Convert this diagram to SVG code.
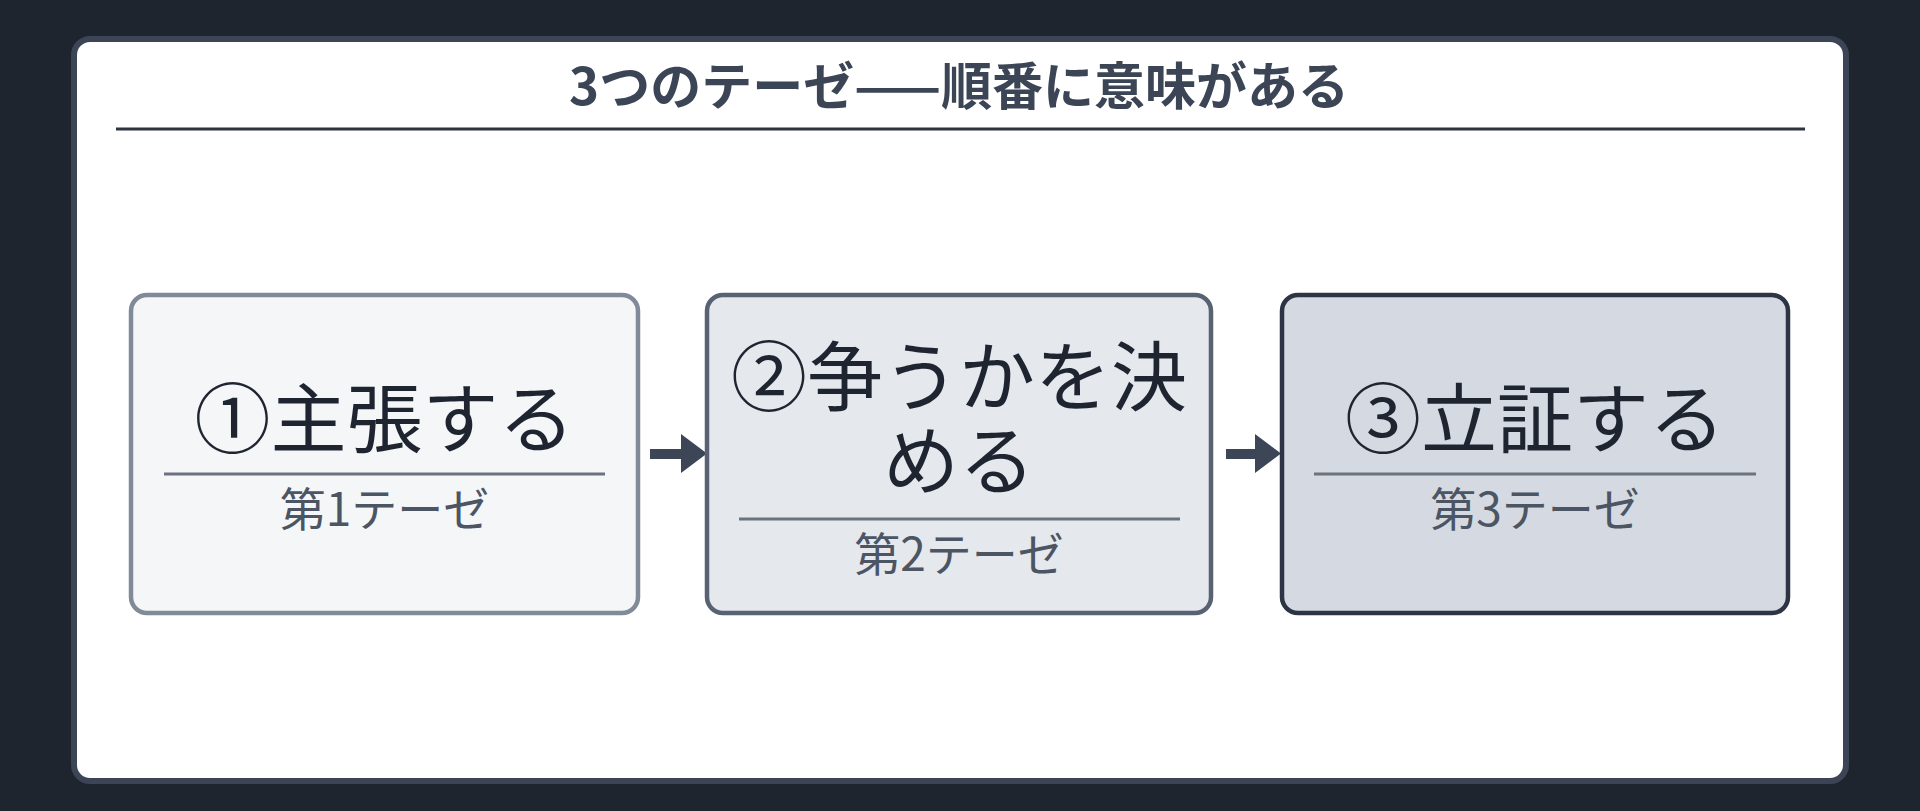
<svg xmlns="http://www.w3.org/2000/svg" width="1920" height="811" viewBox="0 0 1920 811">
<defs>
<style>
.ttl{font-family:"Noto Sans CJK JP","Noto Sans",sans-serif;font-weight:700;font-size:51px;fill:#3b4555;text-anchor:middle}
.main{font-family:"Noto Sans CJK JP","Noto Sans",sans-serif;font-size:76px;fill:#1f2530;text-anchor:middle}
.sub{font-family:"Noto Sans CJK JP","Noto Sans",sans-serif;font-size:46px;fill:#4b5563;text-anchor:middle}
.div{stroke:#6b7280;stroke-width:3}
.arr{fill:#3d4656}
</style>
</defs>
<rect x="0" y="0" width="1920" height="811" fill="#1e252f"/>
<rect x="74" y="39" width="1772" height="742" rx="16" fill="#ffffff" stroke="#3b4555" stroke-width="6"/>
<text class="ttl" x="959" y="105">3つのテーゼ——順番に意味がある</text>
<line x1="116" y1="129" x2="1805" y2="129" stroke="#2d3440" stroke-width="3"/>
<g id="connectors">
<path class="arr" d="M650 449 H681 V434 L707 453.5 L681 473 V459 H650 Z"/>
<path class="arr" d="M1226 449 H1255 V434 L1281 453.5 L1255 473 V459 H1226 Z"/>
</g>
<g id="node1">
<rect x="131" y="295" width="507" height="318" rx="16" fill="#f4f6f8" stroke="#808a98" stroke-width="4.5"/>
<text class="main" x="384.5" y="447">①主張する</text>
<line class="div" x1="164" y1="474" x2="605" y2="474"/>
<text class="sub" x="384.5" y="526">第1テーゼ</text>
</g>
<g id="node2">
<rect x="707" y="295" width="504" height="318" rx="16" fill="#e5e8ed" stroke="#586273" stroke-width="4.5"/>
<text class="main"><tspan x="959" y="405">②争うかを決</tspan><tspan x="959" y="489">める</tspan></text>
<line class="div" x1="739" y1="519" x2="1180" y2="519"/>
<text class="sub" x="959" y="571">第2テーゼ</text>
</g>
<g id="node3">
<rect x="1282" y="295" width="506" height="318" rx="16" fill="#d5dae2" stroke="#2d3545" stroke-width="4.5"/>
<text class="main" x="1535" y="447">③立証する</text>
<line class="div" x1="1314" y1="474" x2="1756" y2="474"/>
<text class="sub" x="1535" y="526">第3テーゼ</text>
</g>
</svg>
